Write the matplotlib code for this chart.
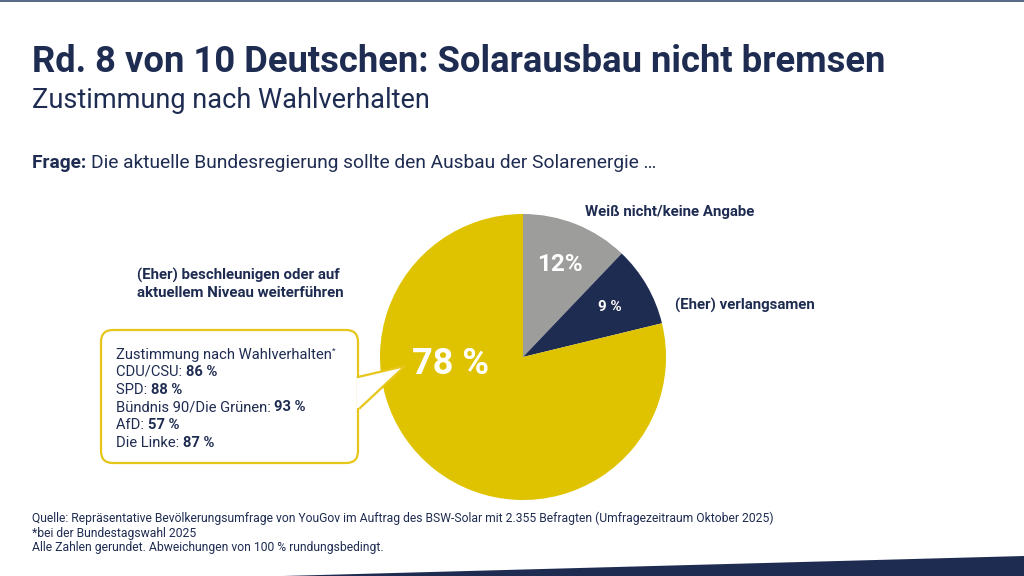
import numpy as np
import matplotlib.pyplot as plt
from matplotlib.patches import FancyBboxPatch, Polygon, Rectangle

# data
answers = ["Weiß nicht/keine Angabe", "(Eher) verlangsamen",
           "(Eher) beschleunigen oder auf\naktuellem Niveau weiterführen"]
shares = [12, 9, 78]
share_labels = ["12%", "9 %", "78 %"]
parties = ["CDU/CSU", "SPD", "Bündnis 90/Die Grünen", "AfD", "Die Linke"]
party_shares = [86, 88, 93, 57, 87]

W, H = 1024, 576
NAVY = '#1f2c52'
YELLOW = '#dfc300'
GREY = '#9d9d9c'
EDGE = '#e6c619'
SANS = ['Roboto', 'DejaVu Sans']


def Y(y):
    # pixel rows from the top -> data y
    return H - y


fig = plt.figure(figsize=(10.24, 5.76), dpi=100)
ax = fig.add_axes([0, 0, 1, 1])

cx, cy, rad = 523, Y(357), 143
wedges, _ = ax.pie(shares, colors=[GREY, NAVY, YELLOW], startangle=90,
                   counterclock=False, center=(cx, cy), radius=rad,
                   wedgeprops=dict(linewidth=0))
ax.set_xlim(0, W)
ax.set_ylim(0, H)
ax.set_aspect('equal')
ax.axis('off')

# labels inside the small slices
for w, lab, fs in zip(wedges[:2], share_labels[:2], [17.5, 11]):
    a = np.deg2rad((w.theta1 + w.theta2) / 2)
    ax.text(cx + 0.70 * rad * np.cos(a), cy + 0.70 * rad * np.sin(a), lab,
            color='white', fontsize=fs, fontweight='bold', family=SANS,
            ha='center', va='center')
ax.text(451, Y(364), share_labels[2], color='white', fontsize=26,
        fontweight='bold', family=SANS, ha='center', va='center', zorder=6)

# answer labels
ax.text(585, Y(212), answers[0], color=NAVY, fontsize=10.8, fontweight='bold',
        family=SANS, ha='left', va='center')
ax.text(675, Y(305), answers[1], color=NAVY, fontsize=10.8, fontweight='bold',
        family=SANS, ha='left', va='center')
ax.text(137, Y(284), answers[2], color=NAVY, fontsize=10.8, fontweight='bold',
        family=SANS, ha='left', va='center', linespacing=1.35)

# callout box
box = FancyBboxPatch((101, Y(463)), 257, 133,
                     boxstyle='round,pad=0,rounding_size=12',
                     facecolor='white', edgecolor=EDGE, linewidth=1.6, zorder=4)
ax.add_patch(box)
tip = [(357, Y(377)), (405, Y(366)), (360, Y(408)), (357, Y(408))]
ax.add_patch(Polygon(tip, closed=True, facecolor='white', edgecolor='none',
                     zorder=5))
ax.plot([358, 405, 360], [Y(377), Y(366), Y(408)], color=EDGE, lw=1.6,
        solid_joinstyle='miter', zorder=5)

t = ax.text(116, Y(355), "Zustimmung nach Wahlverhalten", color=NAVY,
            fontsize=10.6, family=SANS, va='center', zorder=6)
ax.annotate("*", xy=(1, 1), xycoords=t, color=NAVY, fontsize=6,
            family=SANS, va='top', zorder=6)
for i, (p, v) in enumerate(zip(parties, party_shares)):
    t = ax.text(116, Y(372 + 17.7 * i), p + ": ", color=NAVY, fontsize=10.6,
                family=SANS, va='center', zorder=6)
    ax.annotate(f"{v} %", xy=(1, 0), xycoords=t, color=NAVY, fontsize=10.6,
                fontweight='bold', family=SANS, va='bottom', zorder=6)

# titles
ax.text(32, Y(62), "Rd. 8 von 10 Deutschen: Solarausbau nicht bremsen",
        color=NAVY, fontsize=26.2, fontweight='bold', family=SANS, va='center')
ax.text(32, Y(101), "Zustimmung nach Wahlverhalten", color=NAVY,
        fontsize=19.5, family=SANS, va='center')
t = ax.text(32, Y(163), "Frage: ", color=NAVY, fontsize=13.8,
            fontweight='semibold', family=SANS, va='center')
ax.annotate("Die aktuelle Bundesregierung sollte den Ausbau der Solarenergie …",
            xy=(1, 0), xycoords=t, color=NAVY, fontsize=13.8, family=SANS,
            va='bottom')

# footer
notes = ["Quelle: Repräsentative Bevölkerungsumfrage von YouGov im Auftrag des "
         "BSW-Solar mit 2.355 Befragten (Umfragezeitraum Oktober 2025)",
         "*bei der Bundestagswahl 2025",
         "Alle Zahlen gerundet. Abweichungen von 100 % rundungsbedingt."]
for i, n in enumerate(notes):
    ax.text(32, Y(518 + 15 * i), n, color=NAVY, fontsize=8.75, family=SANS,
            va='center')

# decoration
ax.add_patch(Rectangle((0, Y(2)), W, 2, color='#5b6a86', lw=0))
ax.add_patch(Polygon([(283, 0), (W, Y(556)), (W, 0)], closed=True,
                     color=NAVY, lw=0))

fig.savefig('out.png', dpi=100)
